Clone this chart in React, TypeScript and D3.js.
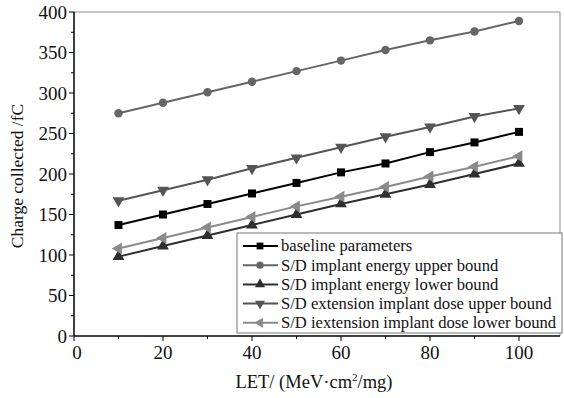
import { useEffect, useRef } from 'react';
import * as d3 from 'd3';

const letValues = [10, 20, 30, 40, 50, 60, 70, 80, 90, 100];
const baseline = [137, 150, 163, 176, 189, 202, 213, 227, 239, 252];
const energyUpper = [275, 288, 301, 314, 327, 340, 353, 365, 376, 389];
const energyLower = [98, 111, 124, 137, 150, 163, 175, 187, 200, 213];
const doseUpper = [167, 180, 193, 207, 220, 233, 246, 258, 271, 281];
const doseLower = [108, 121, 134, 147, 160, 172, 184, 197, 209, 222];

const seriesNames = [
  'baseline parameters',
  'S/D implant energy upper bound',
  'S/D implant energy lower bound',
  'S/D extension implant dose upper bound',
  'S/D iextension implant dose lower bound',
];
const seriesValues = [baseline, energyUpper, energyLower, doseUpper, doseLower];
const seriesColors = ['#000000', '#666666', '#2e2e2e', '#555555', '#8a8a8a'];
const seriesShapes = ['square', 'circle', 'up', 'down', 'left'];

const xTicks = [0, 20, 40, 60, 80, 100];
const yTicks = [0, 50, 100, 150, 200, 250, 300, 350, 400];

const W = 564;
const H = 398;
const FONT = '"Liberation Serif", "Times New Roman", serif';

export default function App() {
  const svgRef = useRef<SVGSVGElement>(null);

  useEffect(() => {
    if (!svgRef.current) return;
    const svg = d3.select(svgRef.current);
    svg.selectAll('*').remove();

    const x = d3.scaleLinear().domain([0, 100]).range([74, 519]);
    const y = d3.scaleLinear().domain([0, 400]).range([336, 12]);
    const xRight = 560;

    // frame (top and right, light)
    svg.append('path')
      .attr('d', `M${x(0)},${y(400)}H${xRight}V${y(0)}`)
      .attr('fill', 'none')
      .attr('stroke', '#8a8a8a')
      .attr('stroke-width', 1);

    const marker = (shape: string) => {
      if (shape === 'square') return { d: d3.symbol(d3.symbolSquare, 64)(), rot: 0 };
      if (shape === 'circle') return { d: d3.symbol(d3.symbolCircle, 56)(), rot: 0 };
      const tri = d3.symbol(d3.symbolTriangle, 60)();
      if (shape === 'up') return { d: tri, rot: 0 };
      if (shape === 'down') return { d: tri, rot: 180 };
      return { d: tri, rot: -90 };
    };

    const line = d3.line<number>()
      .x((_, i) => x(letValues[i]))
      .y((d) => y(d));

    seriesValues.forEach((vals, si) => {
      svg.append('path')
        .attr('d', line(vals))
        .attr('fill', 'none')
        .attr('stroke', seriesColors[si])
        .attr('stroke-width', 2);
      const m = marker(seriesShapes[si]);
      svg.selectAll(null)
        .data(vals)
        .enter()
        .append('path')
        .attr('d', m.d)
        .attr('transform', (d, i) => `translate(${x(letValues[i])},${y(d)}) rotate(${m.rot})`)
        .attr('fill', seriesColors[si]);
    });

    // axes
    const axisColor = '#000';
    svg.append('line')
      .attr('x1', x(0)).attr('x2', x(0)).attr('y1', y(0)).attr('y2', y(400))
      .attr('stroke', axisColor).attr('stroke-width', 1.5);
    svg.append('line')
      .attr('x1', x(0)).attr('x2', xRight).attr('y1', y(0)).attr('y2', y(0))
      .attr('stroke', axisColor).attr('stroke-width', 1.5);

    // y ticks
    d3.range(0, 401, 25).forEach((v) => {
      const major = v % 50 === 0;
      svg.append('line')
        .attr('x1', x(0)).attr('x2', x(0) - (major ? 5 : 3))
        .attr('y1', y(v)).attr('y2', y(v))
        .attr('stroke', axisColor).attr('stroke-width', 1);
    });
    yTicks.forEach((v) => {
      svg.append('text')
        .attr('x', x(0) - 7)
        .attr('y', y(v))
        .attr('dy', '0.35em')
        .attr('text-anchor', 'end')
        .attr('font-family', FONT)
        .attr('font-size', 19)
        .attr('fill', '#111')
        .text(v);
    });

    // x ticks
    d3.range(0, 110, 10).forEach((v) => {
      const major = v % 20 === 0;
      svg.append('line')
        .attr('x1', x(v)).attr('x2', x(v))
        .attr('y1', y(0)).attr('y2', y(0) + (major ? 5 : 3))
        .attr('stroke', axisColor).attr('stroke-width', 1);
    });
    xTicks.forEach((v) => {
      svg.append('text')
        .attr('x', x(v) + (v === 0 ? 3 : 0))
        .attr('y', 359)
        .attr('text-anchor', 'middle')
        .attr('font-family', FONT)
        .attr('font-size', 19)
        .attr('fill', '#111')
        .text(v);
    });

    // axis titles
    const xt = svg.append('text')
      .attr('x', 314)
      .attr('y', 388)
      .attr('text-anchor', 'middle')
      .attr('font-family', FONT)
      .attr('font-size', 18.5)
      .attr('fill', '#111');
    xt.append('tspan').text('LET/ (MeV·cm');
    xt.append('tspan').attr('font-size', 11).attr('dy', -7).text('2');
    xt.append('tspan').attr('dy', 7).text('/mg)');

    svg.append('text')
      .attr('transform', `translate(23,176) rotate(-90)`)
      .attr('text-anchor', 'middle')
      .attr('font-family', FONT)
      .attr('font-size', 17.5)
      .attr('fill', '#111')
      .text('Charge collected /fC');

    // legend
    const lg = svg.append('g');
    lg.append('rect')
      .attr('x', 237).attr('y', 233).attr('width', 325).attr('height', 100)
      .attr('fill', '#fff')
      .attr('stroke', '#777')
      .attr('stroke-width', 1);
    seriesNames.forEach((name, i) => {
      const ry = 246 + i * 19.2;
      lg.append('line')
        .attr('x1', 243).attr('x2', 278).attr('y1', ry).attr('y2', ry)
        .attr('stroke', seriesColors[i]).attr('stroke-width', 2);
      const m = marker(seriesShapes[i]);
      lg.append('path')
        .attr('d', m.d)
        .attr('transform', `translate(260,${ry}) rotate(${m.rot}) scale(0.85)`)
        .attr('fill', seriesColors[i]);
      lg.append('text')
        .attr('x', 281)
        .attr('y', ry)
        .attr('dy', '0.33em')
        .attr('font-family', FONT)
        .attr('font-size', 16.6)
        .attr('fill', '#111')
        .text(name);
    });
  }, []);

  return (
    <svg
      ref={svgRef}
      width={W}
      height={H}
      style={{ position: 'absolute', left: 0, top: 0, background: '#fff' }}
    />
  );
}
